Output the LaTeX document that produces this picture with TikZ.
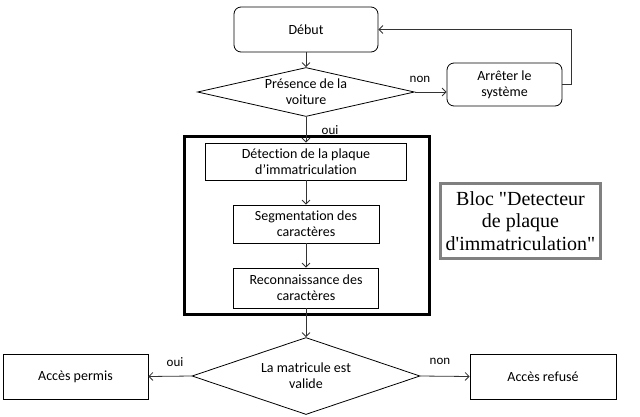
\documentclass[tikz,border=0pt]{standalone}
\usepackage{fontspec}
\setmainfont[Ligatures=NoCommon]{Carlito}
\newfontfamily\blocfont{Liberation Serif}
\usetikzlibrary{shapes.geometric,arrows.meta}

\begin{document}
\begin{tikzpicture}[x=1pt,y=-1pt,
		font=\fontsize{14}{16}\selectfont,
		box/.style={draw,line width=0.8pt,align=center,inner sep=0pt},
		rbox/.style={box,rounded corners=7pt},
		choix/.style={draw,diamond,line width=0.8pt,inner sep=0pt},
		fleche/.style={draw=black!80,line width=0.8pt,-{Straight Barb[length=4pt,width=8pt]}},
		petit/.style={font=\fontsize{13}{14}\selectfont}]

			\useasboundingbox (0,0) rectangle (640,416);

			%blocs
			\node[rbox,minimum width=144pt,minimum height=45pt] (debut) at (306,29.5) {Début};

			\node[choix,minimum width=217pt,minimum height=49pt] (presence) at (306,92) {};

			\node[align=center] (presencetxt) at (presence) {Présence de la\\voiture};

			\node[rbox,minimum width=115pt,minimum height=43pt] (arret) at (504.5,84.5) {Arrêter le\\système};

			\node[draw,line width=3pt,minimum width=245pt,minimum height=178pt] (bloc) at (307,225.5) {};

			\node[box,minimum width=201pt,minimum height=37pt] (detection) at (306,161.5) {Détection de la plaque\\d’immatriculation};

			\node[box,minimum width=146pt,minimum height=38pt] (segmentation) at (306,224) {Segmentation des\\caractères};

			\node[box,minimum width=145pt,minimum height=40pt] (reconnaissance) at (306,288) {Reconnaissance des\\caractères};

			\node[draw=gray,line width=3pt,minimum width=160pt,minimum height=75pt,align=center,inner sep=0pt,
				font=\blocfont\fontsize{20}{22.5}\selectfont] (legende) at (520.5,221)
				{Bloc "Detecteur\\de plaque\\d\textquotesingle immatriculation"};

			\node[choix,minimum width=228pt,minimum height=77pt] (matricule) at (306,376) {};

			\node[align=center] (matriculetxt) at (matricule) {La matricule est\\valide};

			\node[box,minimum width=145pt,minimum height=45pt] (permis) at (75.5,376.5) {Accès permis};

			\node[box,minimum width=146pt,minimum height=45pt] (refuse) at (543,376.5) {Accès refusé};

			%fleches
			\draw[fleche] (debut) -- (presence);

			\draw[fleche] (presence.east) -- (presence.east -| arret.west);

			\node[petit] (non1) at (420,79) {non};

			\draw[fleche] (arret.east) -- ++(9,0) |- (debut.east);

			\draw[fleche] (presence) -- (detection);

			\node[petit] (oui1) at (330,130) {oui};

			\draw[fleche] (detection) -- (segmentation);

			\draw[fleche] (segmentation) -- (reconnaissance);

			\draw[fleche] (reconnaissance) -- (matricule);

			\draw[fleche] (matricule.west) -- (permis.east);

			\node[petit] (oui2) at (175,362) {oui};

			\draw[fleche] (matricule.east) -- (refuse.west);

			\node[petit] (non2) at (440,361) {non};
        \end{tikzpicture}
\end{document}
